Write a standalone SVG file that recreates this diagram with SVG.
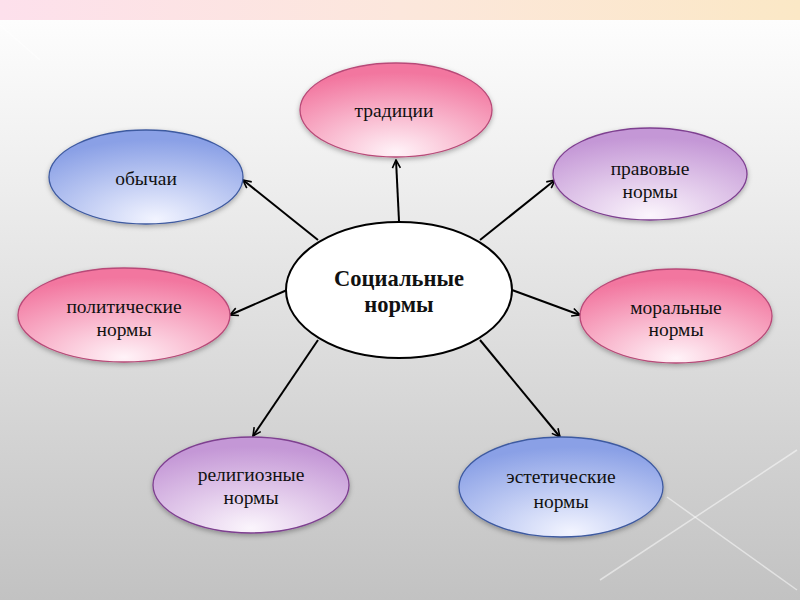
<svg xmlns="http://www.w3.org/2000/svg" width="800" height="600" viewBox="0 0 800 600">
<defs>
<linearGradient id="bg" x1="0" y1="0" x2="0" y2="1">
<stop offset="0" stop-color="#ffffff"/>
<stop offset="0.3" stop-color="#eeeeee"/>
<stop offset="1" stop-color="#c2c2c2"/>
</linearGradient>
<linearGradient id="band" x1="0" y1="0" x2="1" y2="0">
<stop offset="0" stop-color="#fde0ec"/>
<stop offset="0.5" stop-color="#fce7dc"/>
<stop offset="1" stop-color="#fbe8c6"/>
</linearGradient>
<radialGradient id="pink" cx="0.5" cy="0.95" r="0.85">
<stop offset="0" stop-color="#fff3f8"/>
<stop offset="1" stop-color="#f2769f"/>
</radialGradient>
<radialGradient id="blue" cx="0.55" cy="0.95" r="0.85">
<stop offset="0" stop-color="#f2f4ff"/>
<stop offset="1" stop-color="#8aa0e6"/>
</radialGradient>
<radialGradient id="purple" cx="0.5" cy="0.95" r="0.85">
<stop offset="0" stop-color="#fbf5fc"/>
<stop offset="1" stop-color="#c497d6"/>
</radialGradient>
<filter id="sh" x="-20%" y="-20%" width="140%" height="150%">
<feDropShadow dx="0" dy="2" stdDeviation="2.5" flood-color="#000" flood-opacity="0.3"/>
</filter>
<marker id="arr" viewBox="0 0 10 10" refX="9" refY="5" markerWidth="10" markerHeight="10" markerUnits="userSpaceOnUse" orient="auto">
<path d="M1,1 L9,5 L1,9" fill="none" stroke="#000" stroke-width="1.6"/>
</marker>
</defs>
<style>
.t{font-family:'Liberation Serif','Times New Roman',serif;font-size:19.5px;fill:#111;text-anchor:middle}
.c{font-family:'Liberation Serif','Times New Roman',serif;font-size:22.5px;font-weight:bold;fill:#111;text-anchor:middle}
.pk{fill:url(#pink);stroke:#b84a78;stroke-width:1.3;filter:url(#sh)}
.bl{fill:url(#blue);stroke:#3e5aa0;stroke-width:1.3;filter:url(#sh)}
.pu{fill:url(#purple);stroke:#7e3f90;stroke-width:1.3;filter:url(#sh)}
.ln{stroke:#000;stroke-width:2;fill:none;marker-end:url(#arr)}
</style>
<rect width="800" height="600" fill="url(#bg)"/>
<rect width="800" height="20" fill="url(#band)"/>
<g stroke="#ffffff" stroke-opacity="0.5" stroke-width="1.5" fill="none">
<line x1="0" y1="25" x2="40" y2="60"/>
<line x1="600" y1="580" x2="797" y2="450"/>
<line x1="667" y1="497" x2="797" y2="590"/>
</g>
<g id="connectors">
<line class="ln" x1="399" y1="221" x2="396" y2="160"/>
<line class="ln" x1="480" y1="240" x2="555" y2="180"/>
<line class="ln" x1="318" y1="240" x2="243" y2="180"/>
<line class="ln" x1="287" y1="290" x2="230" y2="315"/>
<line class="ln" x1="512" y1="290" x2="580" y2="315"/>
<line class="ln" x1="318" y1="340" x2="253" y2="436"/>
<line class="ln" x1="480" y1="340" x2="560" y2="437"/>
</g>
<g id="center">
<ellipse cx="399" cy="290" rx="113" ry="68" fill="#fff" stroke="#000" stroke-width="2"/>
<text class="c" x="399" y="286">Социальные</text>
<text class="c" x="399" y="312">нормы</text>
</g>
<g id="traditsii">
<ellipse class="pk" cx="396" cy="110" rx="96" ry="47"/>
<text class="t" x="394" y="117">традиции</text>
</g>
<g id="obychai">
<ellipse class="bl" cx="146" cy="177" rx="97" ry="47"/>
<text class="t" x="146" y="185">обычаи</text>
</g>
<g id="pravovye">
<ellipse class="pu" cx="650" cy="174" rx="97" ry="46"/>
<text class="t" x="650" y="175">правовые</text>
<text class="t" x="650" y="198">нормы</text>
</g>
<g id="politicheskie">
<ellipse class="pk" cx="124" cy="315" rx="106" ry="47"/>
<text class="t" x="124" y="313">политические</text>
<text class="t" x="124" y="336">нормы</text>
</g>
<g id="moralnye">
<ellipse class="pk" cx="676" cy="316" rx="96" ry="47"/>
<text class="t" x="676" y="314">моральные</text>
<text class="t" x="676" y="336">нормы</text>
</g>
<g id="religioznye">
<ellipse class="pu" cx="251" cy="485" rx="98" ry="48"/>
<text class="t" x="251" y="481">религиозные</text>
<text class="t" x="251" y="504">нормы</text>
</g>
<g id="esteticheskie">
<ellipse class="bl" cx="561" cy="487" rx="102" ry="50"/>
<text class="t" x="561" y="483">эстетические</text>
<text class="t" x="561" y="508">нормы</text>
</g>
</svg>
